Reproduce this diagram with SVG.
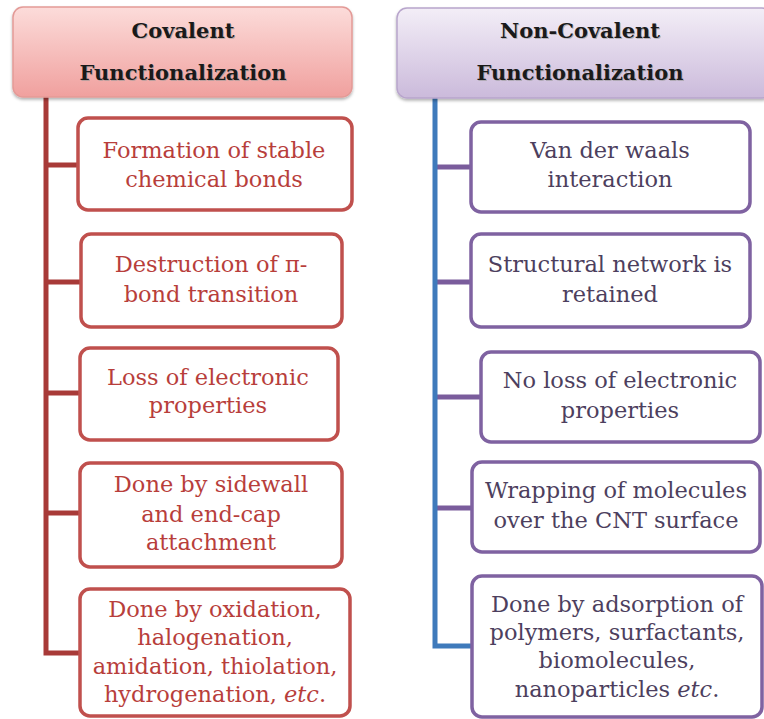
<svg xmlns="http://www.w3.org/2000/svg" width="764" height="719" viewBox="0 0 764 719">
<defs>
<linearGradient id="gRed" x1="0" y1="0" x2="0" y2="1"><stop offset="0" stop-color="#fcdcda"/><stop offset="1" stop-color="#f0a09e"/></linearGradient>
<linearGradient id="gPur" x1="0" y1="0" x2="0" y2="1"><stop offset="0" stop-color="#f3eef7"/><stop offset="1" stop-color="#cbbadb"/></linearGradient>
<filter id="sh" x="-5%" y="-5%" width="110%" height="120%"><feDropShadow dx="0" dy="2" stdDeviation="1.5" flood-color="#000" flood-opacity="0.3"/></filter>
</defs>
<style>
text{font-family:"DejaVu Serif","Liberation Serif",serif}
.hdrR{fill:url(#gRed);stroke:#e39a97;stroke-width:1.5}
.hdrP{fill:url(#gPur);stroke:#b8a5cc;stroke-width:1.5}
.bR{fill:#fff;stroke:#c0504d;stroke-width:3.5}
.bP{fill:#fff;stroke:#7f62a1;stroke-width:3.5}
.ht{font-weight:bold;font-size:21px;fill:#1a1a1a;text-anchor:middle}
.hs{font-weight:bold;font-size:21px;fill:#999;text-anchor:middle;opacity:0.6}
.tR{font-size:22.5px;fill:#b83e3b;text-anchor:middle}
.tP{font-size:22.5px;fill:#4d3f5e;text-anchor:middle}
.lnR{stroke:#a83a38;stroke-width:5;fill:none}
.lnB{stroke:#3f7abb;stroke-width:5;fill:none}
.lnP{stroke:#7a5c9c;stroke-width:5;fill:none}
</style>
<rect width="764" height="719" fill="#fff"/>
<g id="connectors">
<path class="lnR" d="M46 97 V653 H80"/>
<path class="lnR" d="M46 165 H78 M46 282 H81 M46 393 H80 M46 513 H80"/>
<path class="lnP" d="M437 167 H471 M437 282 H471 M437 397 H481 M437 508 H472"/>
<path class="lnB" d="M435 98 V646 H472"/>
</g>
<g id="hdr-covalent">
<rect class="hdrR" x="13" y="7" width="339" height="90" rx="10" filter="url(#sh)"/>
<text class="hs" x="184" y="39">Covalent</text><text class="hs" x="184" y="81">Functionalization</text>
<text class="ht" x="183" y="38">Covalent</text><text class="ht" x="183" y="80">Functionalization</text>
</g>
<g id="hdr-noncovalent">
<rect class="hdrP" x="397" y="8" width="375" height="90" rx="10" filter="url(#sh)"/>
<text class="hs" x="581" y="39">Non-Covalent</text><text class="hs" x="581" y="81">Functionalization</text>
<text class="ht" x="580" y="38">Non-Covalent</text><text class="ht" x="580" y="80">Functionalization</text>
</g>
<g id="c1">
<rect class="bR" x="78" y="118" width="274" height="92" rx="10"/>
<text class="tR" x="214" y="158">Formation of stable</text><text class="tR" x="214" y="187">chemical  bonds</text>
</g>
<g id="c2">
<rect class="bR" x="81" y="234" width="261" height="93" rx="10"/>
<text class="tR" x="211" y="272">Destruction of π-</text><text class="tR" x="211" y="302">bond transition</text>
</g>
<g id="c3">
<rect class="bR" x="80" y="348" width="258" height="92" rx="10"/>
<text class="tR" x="208" y="385">Loss of electronic</text><text class="tR" x="208" y="413">properties</text>
</g>
<g id="c4">
<rect class="bR" x="80" y="463" width="262" height="104" rx="10"/>
<text class="tR" x="211" y="492">Done by sidewall</text><text class="tR" x="211" y="522">and end-cap</text><text class="tR" x="211" y="550">attachment</text>
</g>
<g id="c5">
<rect class="bR" x="80" y="589" width="270" height="127" rx="10"/>
<text class="tR" x="215" y="617">Done by oxidation,</text><text class="tR" x="215" y="645">halogenation,</text><text class="tR" x="215" y="674">amidation,  thiolation,</text><text class="tR" x="215" y="702">hydrogenation, <tspan font-style="italic">etc</tspan>.</text>
</g>
<g id="n1">
<rect class="bP" x="471" y="122" width="279" height="90" rx="10"/>
<text class="tP" x="610" y="158">Van der waals</text><text class="tP" x="610" y="187">interaction</text>
</g>
<g id="n2">
<rect class="bP" x="471" y="234" width="279" height="93" rx="10"/>
<text class="tP" x="610" y="272">Structural network is</text><text class="tP" x="610" y="302">retained</text>
</g>
<g id="n3">
<rect class="bP" x="481" y="352" width="279" height="90" rx="10"/>
<text class="tP" x="620" y="388">No loss of electronic</text><text class="tP" x="620" y="418">properties</text>
</g>
<g id="n4">
<rect class="bP" x="472" y="462" width="288" height="90" rx="10"/>
<text class="tP" x="616" y="498">Wrapping  of molecules</text><text class="tP" x="616" y="528">over the CNT surface</text>
</g>
<g id="n5">
<rect class="bP" x="472" y="576" width="290" height="141" rx="10"/>
<text class="tP" x="617" y="612">Done by adsorption of</text><text class="tP" x="617" y="640">polymers, surfactants,</text><text class="tP" x="617" y="668">biomolecules,</text><text class="tP" x="617" y="697">nanoparticles <tspan font-style="italic">etc</tspan>.</text>
</g>
</svg>
